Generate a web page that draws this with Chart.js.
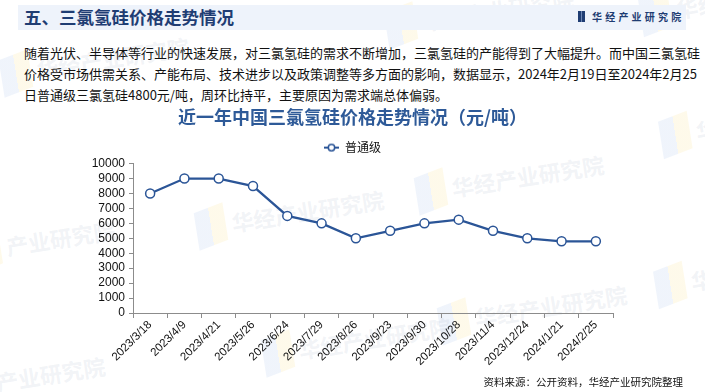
<!DOCTYPE html>
<html>
<head>
<meta charset="utf-8">
<script src="https://cdn.jsdelivr.net/npm/chart.js@4.4.0/dist/chart.umd.min.js"></script>
<style>
  body { margin: 0; width: 705px; height: 392px; position: relative; overflow: hidden; background: #fff;
         font-family: "Noto Sans CJK SC", "Liberation Sans", sans-serif; }
  .band { position: absolute; left: 18px; top: 5px; width: 668px; height: 25px; background: #eef3fb; }
  .head { position: absolute; left: 24px; top: 4px; font-size: 17.5px; font-weight: bold; color: #1f3d73; line-height: 26px; }
  .logo { position: absolute; left: 578px; top: 10px; height: 14px; font-size: 10px; font-weight: bold; color: #1f3d73;
          letter-spacing: 3.2px; line-height: 14px; }
  .logo i { display: inline-block; width: 7px; height: 11px; margin-right: 7px; vertical-align: -1px;
            border-left: 3px solid #1f3d73; border-right: 3px solid #1f3d73; box-sizing: border-box; background: #6c86b5; }
  .para { position: absolute; left: 24px; width: 659px; font-size: 13px; color: #111; line-height: 21px; }
  .para div { white-space: nowrap; }
  .para .j { text-align: justify; text-align-last: justify; }
  .src { position: absolute; right: 22px; top: 374px; font-size: 10.5px; color: #111; }
  .wm { position: absolute; font-size: 22px; font-weight: bold; color: rgba(175,185,205,0.18); transform: rotate(-9deg);
        white-space: nowrap; }
  .wm::before { content: ""; display: inline-block; width: 30px; height: 38px; margin-right: 6px; vertical-align: -10px;
        background: linear-gradient(90deg, rgba(170,195,235,0.18) 50%, rgba(250,225,140,0.18) 50%); transform: skewY(-12deg); }
  #box { position: absolute; left: 0; top: 105px; width: 705px; height: 287px; }
</style>
</head>
<body>
<div class="wm" style="left:385px;top:-6px">华经产业研究院</div>
<div class="wm" style="left:640px;top:-10px">华经</div>
<div class="wm" style="left:195px;top:195px">华经产业研究院</div>
<div class="wm" style="left:415px;top:160px">华经产业研究院</div>
<div class="wm" style="left:438px;top:290px">华经产业研究院</div>
<div class="wm" style="left:655px;top:262px">华经</div>
<div class="wm" style="left:660px;top:112px">华经</div>
<div class="wm" style="left:-30px;top:222px">产业研究院</div>
<div class="wm" style="left:-40px;top:358px">产业研究院</div>
<div class="wm" style="left:262px;top:322px">华经产业研究院</div>
<div class="wm" style="left:0px;top:42px">华经产业研究院</div>

<div class="band"></div>
<div class="head">五、三氯氢硅价格走势情况</div>
<div class="logo"><i></i>华经产业研究院</div>
<div class="para" style="top:42px">
  <div class="j">随着光伏、半导体等行业的快速发展，对三氯氢硅的需求不断增加，三氯氢硅的产能得到了大幅提升。而中国三氯氢硅</div>
  <div class="j">价格受市场供需关系、产能布局、技术进步以及政策调整等多方面的影响，数据显示，2024年2月19日至2024年2月25</div>
  <div>日普通级三氯氢硅4800元/吨，周环比持平，主要原因为需求端总体偏弱。</div>
</div>
<div id="box"><canvas class="js-chart"></canvas></div>
<div class="src">资料来源：公开资料，华经产业研究院整理</div>

<script>
const dates = ["2023/3/18", "2023/4/9", "2023/4/21", "2023/5/26", "2023/6/24", "2023/7/29", "2023/8/26",
  "2023/9/23", "2023/9/30", "2023/10/28", "2023/11/4", "2023/12/24", "2024/1/21", "2024/2/25"];
const prices = [8000, 9000, 9000, 8500, 6500, 6000, 5000, 5500, 6000, 6250, 5500, 5000, 4800, 4800];
const yTicks = [0, 1000, 2000, 3000, 4000, 5000, 6000, 7000, 8000, 9000, 10000];
const seriesName = "普通级";
const chartTitle = "近一年中国三氯氢硅价格走势情况（元/吨）";

const blue = "#2b5597";
const axisGray = "#8c8c8c";

// legend marker: short line with a hollow circle
function makeMarker() {
  const c = document.createElement("canvas");
  c.width = 15;
  c.height = 10;
  const g = c.getContext("2d");
  g.strokeStyle = blue;
  g.lineWidth = 2;
  g.beginPath();
  g.moveTo(0, 5);
  g.lineTo(15, 5);
  g.stroke();
  g.beginPath();
  g.arc(7.5, 5, 3.2, 0, Math.PI * 2);
  g.fillStyle = "#fff";
  g.fill();
  g.lineWidth = 1.5;
  g.stroke();
  return c;
}

const ctx = document.querySelector(".js-chart").getContext("2d");

new Chart(ctx, {
  type: "line",
  data: {
    labels: dates,
    datasets: [
      {
        label: seriesName,
        data: prices,
        borderColor: blue,
        borderWidth: 2.3,
        pointRadius: 4.5,
        pointBackgroundColor: "#fff",
        pointBorderColor: blue,
        pointBorderWidth: 1.5,
        tension: 0,
        fill: false,
      },
    ],
  },
  options: {
    responsive: true,
    maintainAspectRatio: false,
    animation: false,
    layout: { padding: { left: 0, right: 0, top: 1, bottom: 0 } },
    plugins: {
      tooltip: { enabled: false },
      title: {
        display: true,
        text: chartTitle,
        color: "#2e5a98",
        font: { family: "'Noto Sans CJK SC'", size: 18, weight: "bold" },
        padding: { top: 0, bottom: 8 },
      },
      legend: {
        labels: {
          usePointStyle: true,
          pointStyle: makeMarker(),
          pointStyleWidth: 15,
          color: "#111",
          font: { family: "'Noto Sans CJK SC'", size: 12 },
          padding: 6,
        },
      },
    },
    scales: {
      x: {
        offset: true,
        grid: { drawOnChartArea: false, offset: true, tickLength: 5, color: axisGray },
        border: { color: axisGray },
        ticks: {
          autoSkip: false,
          maxRotation: 45,
          minRotation: 45,
          color: "#111",
          padding: 0,
          font: { family: "Liberation Sans", size: 11.5 },
        },
        afterFit: (scale) => { scale.height = 79; },
      },
      y: {
        min: 0,
        max: 10000,
        grid: { drawOnChartArea: false, tickLength: 4, color: axisGray },
        border: { color: axisGray },
        ticks: {
          autoSkip: false,
          color: "#111",
          padding: 4,
          font: { family: "Liberation Sans", size: 12 },
          callback: (v) => String(v),
        },
        afterBuildTicks: (scale) => { scale.ticks = yTicks.map((v) => ({ value: v })); },
        afterFit: (scale) => { scale.width = 133; },
      },
      // empty right-hand axis, only reserves the blank space right of the plot
      yRight: {
        position: "right",
        min: 0,
        max: 10000,
        grid: { display: false },
        border: { display: false },
        ticks: { display: false },
        afterFit: (scale) => { scale.width = 92; },
      },
    },
  },
});
</script>
</body>
</html>
